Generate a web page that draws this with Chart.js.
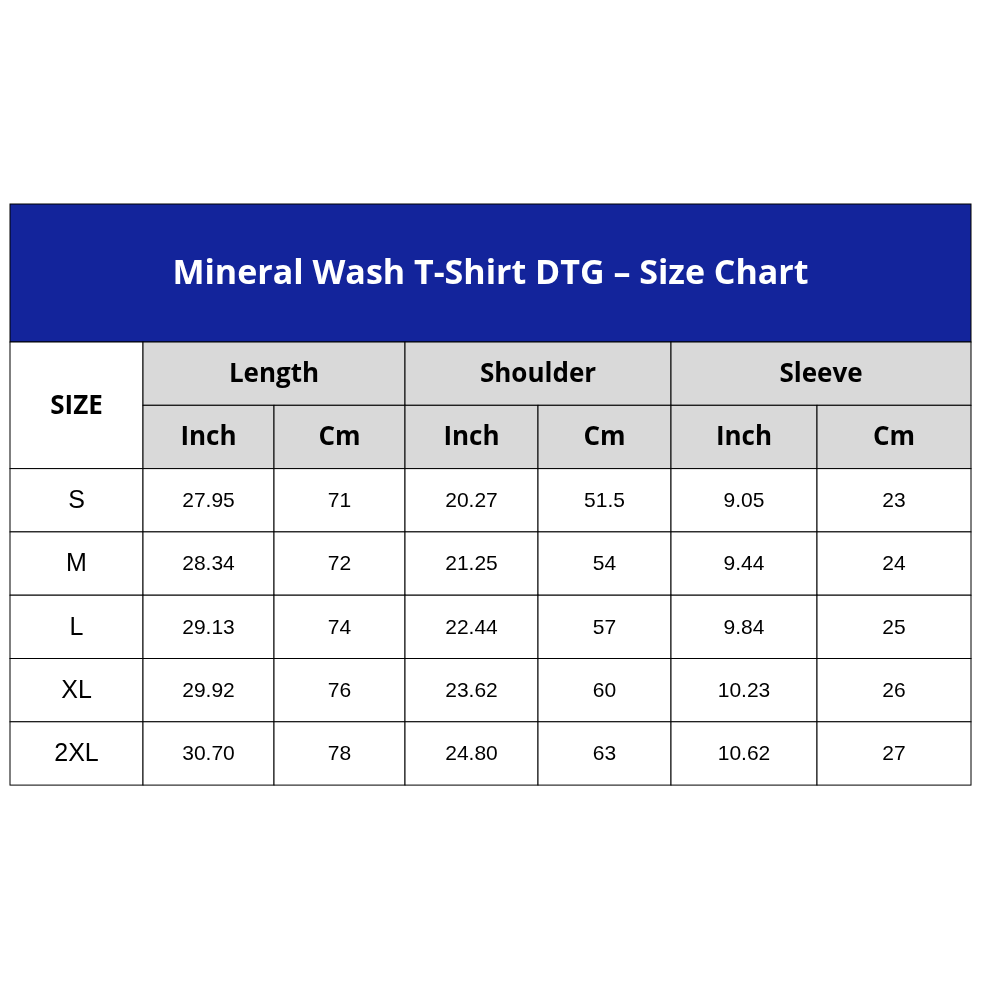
<!DOCTYPE html>
<html>
<head>
<meta charset="utf-8">
<script src="https://cdn.jsdelivr.net/npm/chart.js@4"></script>
<style>
  html, body { margin: 0; padding: 0; background: #fff; }
  #wrap { width: 1000px; height: 1000px; }
</style>
</head>
<body>
<div id="wrap"><canvas id="sizeChart" width="1000" height="1000"></canvas></div>
<script>
// Table contents
const TITLE = 'Mineral Wash T-Shirt DTG \u2013 Size Chart';
const GROUPS = ['Length', 'Shoulder', 'Sleeve'];
const UNITS = ['Inch', 'Cm', 'Inch', 'Cm', 'Inch', 'Cm'];
const SIZES = ['S', 'M', 'L', 'XL', '2XL'];
const LENGTH_IN = ['27.95', '28.34', '29.13', '29.92', '30.70'];
const LENGTH_CM = ['71', '72', '74', '76', '78'];
const SHOULDER_IN = ['20.27', '21.25', '22.44', '23.62', '24.80'];
const SHOULDER_CM = ['51.5', '54', '57', '60', '63'];
const SLEEVE_IN = ['9.05', '9.44', '9.84', '10.23', '10.62'];
const SLEEVE_CM = ['23', '24', '25', '26', '27'];

// Layout, in scale units (scales span 0..1000 on both axes)
const COL_EDGES = [10, 143, 274, 405, 538, 671, 817, 971];
const TITLE_TOP = 204, TITLE_BOTTOM = 342;
const ROW_H = 63.3;

const BLUE = '#13249B';
const GREY = '#D9D9D9';
const HEAD_FONT = 'bold 26px "Open Sans", Lato, sans-serif';
const CELL_FONT = '21px "Liberation Sans", Arial, sans-serif';

const tablePlugin = {
  id: 'tablePlugin',
  afterDraw(chart) {
    const c = chart.ctx, xs = chart.scales.x, ys = chart.scales.y;
    const X = v => xs.getPixelForValue(v);
    const Y = v => ys.getPixelForValue(v);
    const rowTop = i => TITLE_BOTTOM + i * ROW_H;

    function cell(x0, x1, r0, r1, text, font, fill, color) {
      const px0 = X(x0), px1 = X(x1), py0 = Y(rowTop(r0)), py1 = Y(rowTop(r1));
      if (fill) { c.fillStyle = fill; c.fillRect(px0, py0, px1 - px0, py1 - py0); }
      c.strokeStyle = '#000'; c.lineWidth = 1;
      c.strokeRect(px0, py0, px1 - px0, py1 - py0);
      c.fillStyle = color || '#000'; c.font = font;
      c.textAlign = 'center'; c.textBaseline = 'middle';
      c.fillText(text, (px0 + px1) / 2, (py0 + py1) / 2 + 1);
    }

    c.save();
    // title band
    c.fillStyle = BLUE;
    c.fillRect(X(COL_EDGES[0]), Y(TITLE_TOP), X(COL_EDGES[7]) - X(COL_EDGES[0]), Y(TITLE_BOTTOM) - Y(TITLE_TOP));
    c.strokeStyle = '#000'; c.lineWidth = 1;
    c.strokeRect(X(COL_EDGES[0]), Y(TITLE_TOP), X(COL_EDGES[7]) - X(COL_EDGES[0]), Y(TITLE_BOTTOM) - Y(TITLE_TOP));
    c.fillStyle = '#fff'; c.font = 'bold 34px "Open Sans", Lato, sans-serif';
    c.textAlign = 'center'; c.textBaseline = 'middle';
    c.fillText(TITLE, (X(COL_EDGES[0]) + X(COL_EDGES[7])) / 2, Y((TITLE_TOP + TITLE_BOTTOM) / 2) + 1);

    // headers
    cell(COL_EDGES[0], COL_EDGES[1], 0, 2, 'SIZE', HEAD_FONT, '#fff');
    GROUPS.forEach((g, i) => cell(COL_EDGES[1 + 2 * i], COL_EDGES[3 + 2 * i], 0, 1, g, HEAD_FONT, GREY));
    UNITS.forEach((u, i) => cell(COL_EDGES[1 + i], COL_EDGES[2 + i], 1, 2, u, HEAD_FONT, GREY));

    // body
    const cols = [LENGTH_IN, LENGTH_CM, SHOULDER_IN, SHOULDER_CM, SLEEVE_IN, SLEEVE_CM];
    SIZES.forEach((s, r) => {
      cell(COL_EDGES[0], COL_EDGES[1], r + 2, r + 3, s, '25px "Liberation Sans", Arial, sans-serif', '#fff');
      cols.forEach((col, i) => cell(COL_EDGES[1 + i], COL_EDGES[2 + i], r + 2, r + 3, col[r], CELL_FONT, '#fff'));
    });
    c.restore();
  }
};

new Chart(document.getElementById('sizeChart'), {
  type: 'scatter',
  data: { datasets: [{ data: [] }] },
  options: {
    responsive: false,
    animation: false,
    layout: { padding: 0 },
    scales: {
      x: { type: 'linear', min: 0, max: 1000, display: false },
      y: { type: 'linear', min: 0, max: 1000, reverse: true, display: false }
    },
    plugins: { legend: { display: false }, tooltip: { enabled: false } }
  },
  plugins: [tablePlugin]
});
</script>
</body>
</html>
